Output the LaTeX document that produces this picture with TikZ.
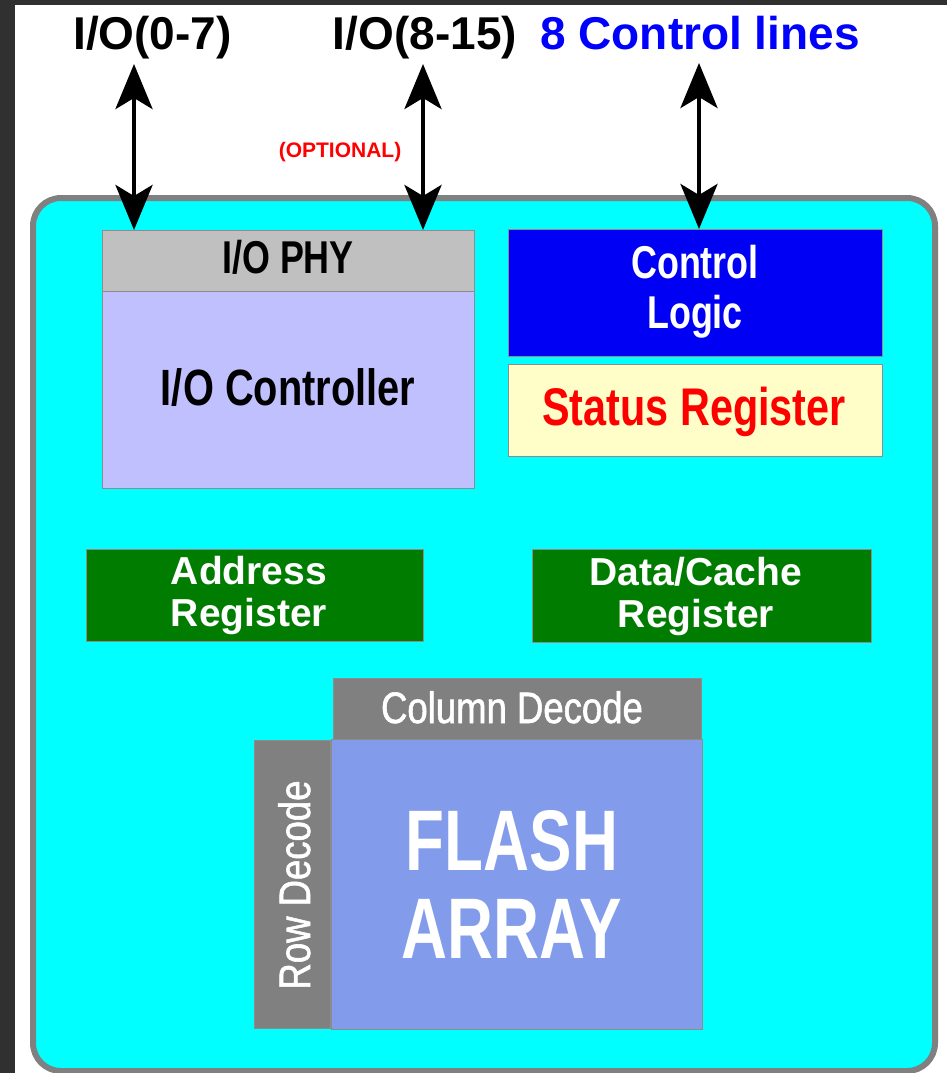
\documentclass[tikz,border=0pt]{standalone}
\usepackage{fontspec}
\setmainfont{Liberation Sans}
\newfontfamily\fNarrow[FakeStretch=0.78]{Liberation Sans}
\newfontfamily\fFlash[FakeStretch=0.74]{Liberation Sans}
\newfontfamily\fDec[FakeStretch=0.83,FakeBold=1.3]{Liberation Sans}
\usetikzlibrary{arrows.meta}
\definecolor{darkbg}{RGB}{48,48,48}
\definecolor{chipcyan}{RGB}{0,255,255}
\definecolor{framegray}{RGB}{128,128,128}
\definecolor{phygray}{RGB}{192,192,192}
\definecolor{lavender}{RGB}{192,192,255}
\definecolor{ctlblue}{RGB}{0,0,245}
\definecolor{statyellow}{RGB}{255,253,200}
\definecolor{regred}{RGB}{255,0,0}
\definecolor{reggreen}{RGB}{0,125,0}
\definecolor{flashblue}{RGB}{130,155,235}
\definecolor{decgray}{RGB}{128,128,128}
\definecolor{lineblue}{RGB}{0,0,255}
\tikzset{
  blk/.style={rectangle, anchor=north west, inner sep=0pt, outer sep=0pt, draw=black!45, line width=1pt},
  lbl/.style={anchor=base, inner sep=0pt},
  toplbl/.style={lbl, font=\bfseries\fontsize{46}{50}\selectfont},
  biarrow/.style={line width=4.5pt,
    {Stealth[length=45pt,width=37pt,inset=11pt]}-{Stealth[length=45pt,width=37pt,inset=11pt]}},
}
\begin{document}
\begin{tikzpicture}[x=1pt,y=-1pt]
\useasboundingbox (0,0) rectangle (947,1073);
\fill[darkbg] (0,0) rectangle (947,1073);
\fill[white] (15,5) rectangle (947,1073);

% chip outline
\node[rectangle, anchor=north west, inner sep=0pt, minimum width=902, minimum height=873,
      fill=chipcyan, draw=framegray, line width=6pt, rounded corners=28pt] (chip) at (30,195) {};

% blocks
\node[blk, fill=phygray, minimum width=372, minimum height=61] (phy) at (102,230) {};
\node[blk, fill=lavender, minimum width=372, minimum height=197] (ioc) at (102,291) {};
\node[blk, fill=ctlblue, minimum width=374, minimum height=127] (ctl) at (508,229) {};
\node[blk, fill=statyellow, minimum width=374, minimum height=92] (stat) at (508,364) {};
\node[blk, fill=reggreen, minimum width=337, minimum height=92] (addr) at (86,549) {};
\node[blk, fill=reggreen, minimum width=339, minimum height=93] (data) at (532,549) {};
\node[blk, fill=decgray, minimum width=368, minimum height=61] (col) at (333,678) {};
\node[blk, fill=flashblue, minimum width=371, minimum height=290] (flash) at (331,739) {};
\node[blk, fill=decgray, minimum width=76, minimum height=288] (row) at (254,740) {};

% block texts
\node[lbl, font=\fNarrow\bfseries\fontsize{46}{50}\selectfont] (tphy) at (288,273) {I/O PHY};
\node[lbl, font=\fNarrow\bfseries\fontsize{51}{55}\selectfont] (tioc) at (288,405) {I/O Controller};
\node[lbl, font=\fNarrow\bfseries\fontsize{46}{50}\selectfont, text=white] (tctl1) at (695,278) {Control};
\node[lbl, font=\fNarrow\bfseries\fontsize{46}{50}\selectfont, text=white] (tctl2) at (695,328) {Logic};
\node[lbl, font=\fNarrow\bfseries\fontsize{53}{57}\selectfont, text=regred] (tstat) at (694,425) {Status Register};
\node[lbl, font=\bfseries\fontsize{39}{42}\selectfont, text=white] (taddr1) at (249,584) {Address};
\node[lbl, font=\bfseries\fontsize{39}{42}\selectfont, text=white] (taddr2) at (249,626) {Register};
\node[lbl, font=\bfseries\fontsize{39}{42}\selectfont, text=white] (tdata1) at (696,585) {Data/Cache};
\node[lbl, font=\bfseries\fontsize{39}{42}\selectfont, text=white] (tdata2) at (696,627) {Register};
\node[lbl, font=\fDec\fontsize{44}{48}\selectfont, text=white] (tcol) at (512,723) {Column Decode};
\node[lbl, font=\fDec\fontsize{44}{48}\selectfont, text=white, rotate=90] (trow) at (310,885) {Row Decode};
\node[lbl, font=\fFlash\bfseries\fontsize{86}{90}\selectfont, text=white] (tfl1) at (512,870) {FLASH};
\node[lbl, font=\fFlash\bfseries\fontsize{86}{90}\selectfont, text=white] (tfl2) at (512,958) {ARRAY};

% top labels
\node[toplbl] (lio1) at (152.5,50) {I/O(0-7)};
\node[toplbl] (lio2) at (425,50) {I/O(8-15)};
\node[toplbl, text=lineblue] (lctl) at (700,50) {8 Control lines};
\node[lbl, font=\bfseries\fontsize{21}{24}\selectfont, text=regred] (lopt) at (340,157) {(OPTIONAL)};

% arrows
\coordinate (a1) at (134,64);
\coordinate (a2) at (423,64);
\coordinate (a3) at (699,63);
\draw[biarrow] (a1) -- (a1 |- phy.north);
\draw[biarrow] (a2) -- (a2 |- phy.north);
\draw[biarrow] (a3) -- (a3 |- ctl.north);
\end{tikzpicture}
\end{document}
